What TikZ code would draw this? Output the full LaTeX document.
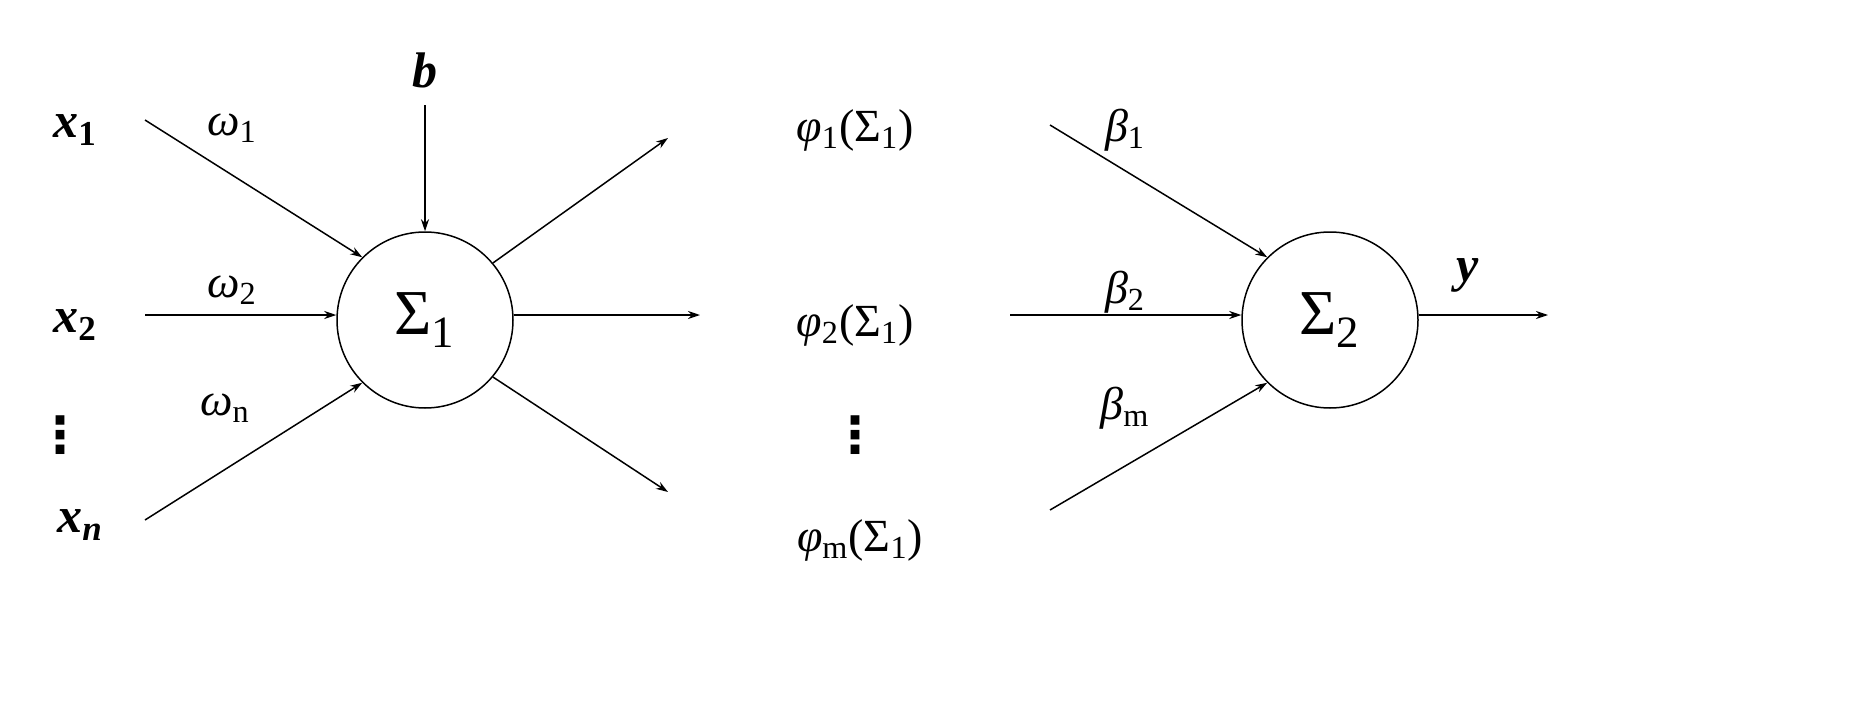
\documentclass[tikz,border=0pt]{standalone}
\usepackage{fontspec}
\setmainfont{Liberation Serif}
\newfontfamily\dejavu{DejaVu Sans}
\usetikzlibrary{arrows.meta}
\begin{document}
\begin{tikzpicture}[x=0.5pt,y=-0.5pt,
  lab/.style={font=\fontsize{25}{27}\selectfont\bfseries\itshape, inner sep=0},
  txt/.style={font=\fontsize{23}{27}\selectfont, inner sep=0},
  vdot/.style={font=\fontsize{25}{27}\selectfont\dejavu\bfseries, inner sep=0},
  neuron/.style={circle, draw, line width=0.75pt, minimum size=88pt, inner sep=0, font=\fontsize{32}{34}\selectfont},
  conn/.style={line width=0.75pt, -{Stealth[length=6pt,width=4pt]}}]
\useasboundingbox (0,0) rectangle (1869,712);
\node[lab] (x1) at (75,130) {x\textsubscript{\upshape 1}};
\node[lab] (x2) at (75,325) {x\textsubscript{\upshape 2}};
\node[vdot] (xd) at (60,435) {⋮};
\node[lab] (xn) at (80,525) {x\textsubscript{n}};
\node[txt] (w1) at (232,128) {\textit{ω}\textsubscript{1}};
\node[txt] (w2) at (232,290) {\textit{ω}\textsubscript{2}};
\node[txt] (wn) at (225,408) {\textit{ω}\textsubscript{n}};
\node[neuron] (s1) at (425,320) {Σ\textsubscript{1}};
\node[lab] (b) at (425,70) {b};
\coordinate (a1) at (145,120);
\coordinate (a2) at (145,315);
\coordinate (an) at (145,520);
\coordinate (bt) at (425,105);
\draw[conn] (a1) -- (s1.135);
\draw[conn] (a2) -- (s1.west |- a2);
\draw[conn] (an) -- (s1.-135);
\draw[conn] (bt) -- (s1.north);
\coordinate (o1) at (668,138);
\coordinate (o2) at (700,315);
\coordinate (om) at (668,492);
\draw[conn] (s1.40) -- (o1);
\draw[conn] (s1.east |- o2) -- (o2);
\draw[conn] (s1.-40) -- (om);
\node[txt] (p1) at (855,130) {\textit{φ}\textsubscript{1}(Σ\textsubscript{1})};
\node[txt] (p2) at (855,325) {\textit{φ}\textsubscript{2}(Σ\textsubscript{1})};
\node[vdot] (pd) at (855,435) {⋮};
\node[txt] (pm) at (860,540) {\textit{φ}\textsubscript{m}(Σ\textsubscript{1})};
\node[neuron] (s2) at (1330,320) {Σ\textsubscript{2}};
\node[txt] (b1) at (1125,130) {\textit{β}\textsubscript{1}};
\node[txt] (b2) at (1125,292) {\textit{β}\textsubscript{2}};
\node[txt] (bm) at (1125,408) {\textit{β}\textsubscript{m}};
\coordinate (c1) at (1050,125);
\coordinate (c2) at (1010,315);
\coordinate (cm) at (1050,510);
\draw[conn] (c1) -- (s2.135);
\draw[conn] (c2) -- (s2.west |- c2);
\draw[conn] (cm) -- (s2.-135);
\node[lab] (y) at (1468,275) {y};
\coordinate (yo) at (1548,315);
\draw[conn] (s2.east |- yo) -- (yo);
\end{tikzpicture}
\end{document}
